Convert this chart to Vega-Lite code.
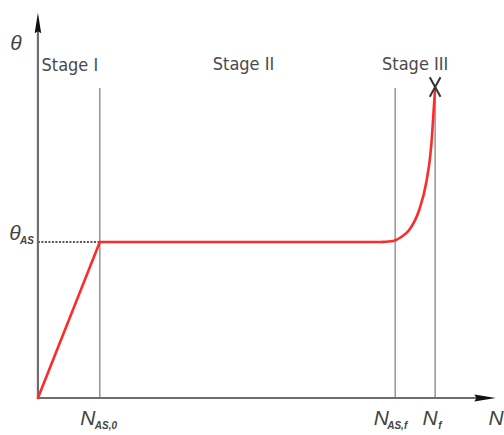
{
  "$schema": "https://vega.github.io/schema/vega-lite/v6.json",
  "width": 504,
  "height": 435,
  "padding": 0,
  "autosize": {"type": "fit", "contains": "padding"},
  "background": "white",
  "config": {"view": {"stroke": null}},
  "datasets": {
    "axes": [
      {"x": 0, "y": 0, "x2": 0, "y2": 372},
      {"x": 0, "y": 0, "x2": 446, "y2": 0}
    ],
    "guides": [
      {"x": 62, "y": 0, "x2": 62, "y2": 310},
      {"x": 358, "y": 0, "x2": 358, "y2": 310},
      {"x": 398, "y": 0, "x2": 398, "y2": 308}
    ],
    "dashed": [{"x": 0, "y": 156, "x2": 62, "y2": 156}],
    "curve": [
      {"part": "linear", "order": 1, "N": 0, "theta": 0},
      {"part": "linear", "order": 2, "N": 62, "theta": 156},
      {"part": "linear", "order": 3, "N": 346, "theta": 156},
      {"part": "smooth", "order": 4, "N": 345, "theta": 156},
      {"part": "smooth", "order": 5, "N": 356, "theta": 157},
      {"part": "smooth", "order": 6, "N": 364, "theta": 161},
      {"part": "smooth", "order": 7, "N": 372, "theta": 168},
      {"part": "smooth", "order": 8, "N": 382, "theta": 188},
      {"part": "smooth", "order": 9, "N": 389, "theta": 215},
      {"part": "smooth", "order": 10, "N": 394, "theta": 251},
      {"part": "smooth", "order": 11, "N": 397, "theta": 295},
      {"part": "smooth", "order": 12, "N": 398, "theta": 310}
    ],
    "arrowUp": [{"N": 0, "theta": 375}],
    "arrowRight": [{"N": 448, "theta": 0}],
    "failure": [{"N": 398, "theta": 311}],
    "stages": [
      {"N": 32, "theta": 327, "label": "Stage I"},
      {"N": 206, "theta": 328, "label": "Stage II"},
      {"N": 378, "theta": 328, "label": "Stage III"}
    ],
    "mainLabels": [
      {"N": -22, "theta": 354, "label": "θ"},
      {"N": -23, "theta": 164, "label": "θ"},
      {"N": 50, "theta": -21, "label": "N"},
      {"N": 344, "theta": -21, "label": "N"},
      {"N": 393, "theta": -21, "label": "N"},
      {"N": 459, "theta": -21, "label": "N"}
    ],
    "subLabels": [
      {"N": -18, "theta": 157, "label": "AS"},
      {"N": 57, "theta": -28, "label": "AS,0"},
      {"N": 350, "theta": -28, "label": "AS,f"},
      {"N": 401, "theta": -28, "label": "f"}
    ]
  },
  "encoding": {
    "x": {"type": "quantitative", "scale": {"domain": [-38, 466], "nice": false, "zero": false}, "axis": null},
    "y": {"type": "quantitative", "scale": {"domain": [-37, 398], "nice": false, "zero": false}, "axis": null}
  },
  "layer": [
    {
      "data": {"name": "guides"},
      "mark": {"type": "rule", "color": "#9a9a9a", "strokeWidth": 1.6},
      "encoding": {"x": {"field": "x"}, "y": {"field": "y"}, "x2": {"field": "x2"}, "y2": {"field": "y2"}}
    },
    {
      "data": {"name": "dashed"},
      "mark": {"type": "rule", "color": "#555555", "strokeWidth": 2, "strokeDash": [2, 1.5]},
      "encoding": {"x": {"field": "x"}, "y": {"field": "y"}, "x2": {"field": "x2"}, "y2": {"field": "y2"}}
    },
    {
      "data": {"name": "axes"},
      "mark": {"type": "rule", "color": "#6e6e6e", "strokeWidth": 2.2},
      "encoding": {"x": {"field": "x"}, "y": {"field": "y"}, "x2": {"field": "x2"}, "y2": {"field": "y2"}}
    },
    {
      "data": {"name": "curve"},
      "transform": [{"filter": "datum.part === 'linear'"}],
      "mark": {"type": "line", "color": "#ff2b2b", "strokeWidth": 2.6, "strokeCap": "round"},
      "encoding": {"x": {"field": "N"}, "y": {"field": "theta"}, "order": {"field": "order"}}
    },
    {
      "data": {"name": "curve"},
      "transform": [{"filter": "datum.part === 'smooth'"}],
      "mark": {"type": "line", "color": "#ff2b2b", "strokeWidth": 2.6, "interpolate": "monotone", "strokeCap": "round"},
      "encoding": {"x": {"field": "N"}, "y": {"field": "theta"}, "order": {"field": "order"}}
    },
    {
      "data": {"name": "arrowUp"},
      "mark": {"type": "point", "shape": "M0,-1L0.32,1L0,0.8L-0.32,1Z", "filled": true, "color": "#111111", "size": 420, "opacity": 1},
      "encoding": {"x": {"field": "N"}, "y": {"field": "theta"}}
    },
    {
      "data": {"name": "arrowRight"},
      "mark": {"type": "point", "shape": "M1,0L-1,-0.32L-0.8,0L-1,0.32Z", "filled": true, "color": "#111111", "size": 460, "opacity": 1},
      "encoding": {"x": {"field": "N"}, "y": {"field": "theta"}}
    },
    {
      "data": {"name": "failure"},
      "mark": {"type": "point", "shape": "M-0.55,-1L0.55,1M0.55,-1L-0.55,1", "filled": false, "color": "#333333", "strokeWidth": 2, "size": 380, "opacity": 1},
      "encoding": {"x": {"field": "N"}, "y": {"field": "theta"}}
    },
    {
      "data": {"name": "stages"},
      "mark": {"type": "text", "font": "DejaVu Sans Condensed, Liberation Sans", "fontSize": 18, "color": "#4a4a4a", "align": "center", "baseline": "alphabetic"},
      "encoding": {"x": {"field": "N"}, "y": {"field": "theta"}, "text": {"field": "label"}}
    },
    {
      "data": {"name": "mainLabels"},
      "mark": {"type": "text", "font": "Liberation Sans", "fontStyle": "italic", "fontSize": 21, "color": "#444444", "align": "center", "baseline": "middle"},
      "encoding": {"x": {"field": "N"}, "y": {"field": "theta"}, "text": {"field": "label"}}
    },
    {
      "data": {"name": "subLabels"},
      "mark": {"type": "text", "font": "Liberation Sans", "fontStyle": "italic", "fontWeight": "bold", "fontSize": 10, "color": "#444444", "align": "left", "baseline": "middle"},
      "encoding": {"x": {"field": "N"}, "y": {"field": "theta"}, "text": {"field": "label"}}
    }
  ]
}
